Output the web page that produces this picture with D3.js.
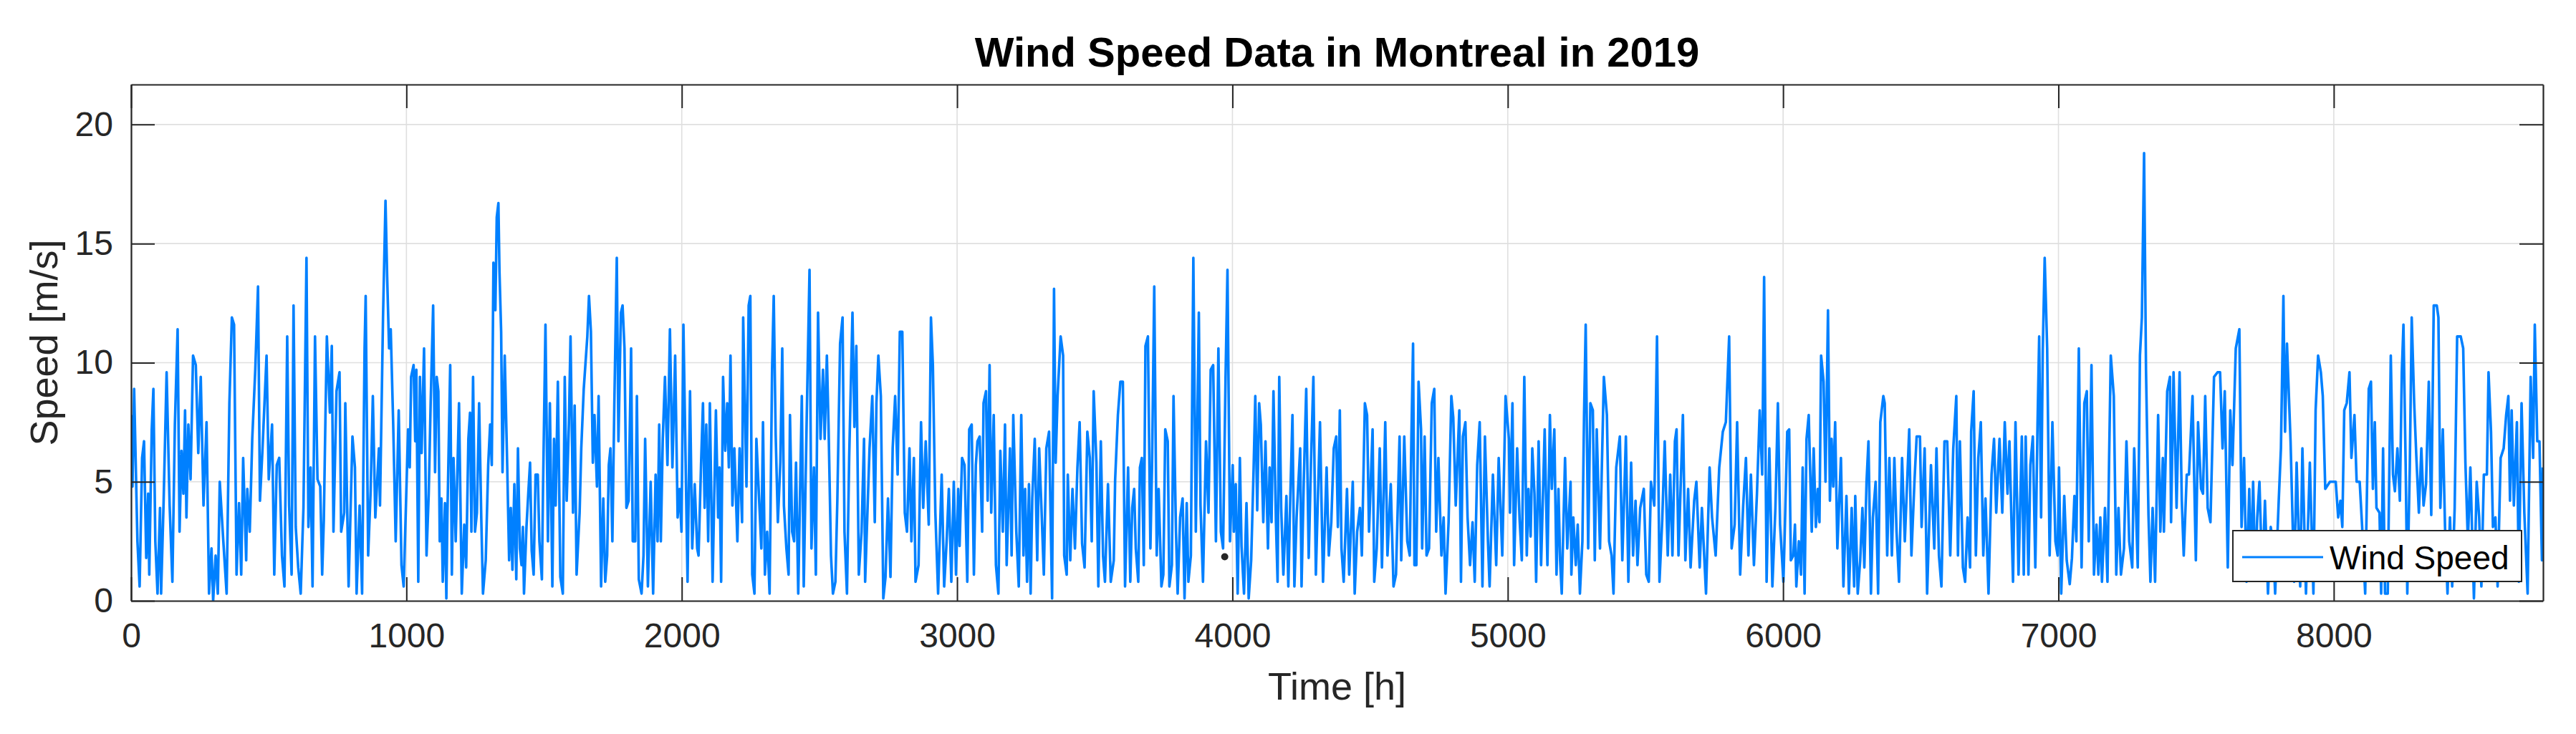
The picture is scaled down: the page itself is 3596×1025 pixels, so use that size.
<!DOCTYPE html>
<html>
<head>
<meta charset="utf-8">
<script src="https://cdn.jsdelivr.net/npm/d3@7"></script>
<style>
  html, body { margin: 0; padding: 0; background: #ffffff; }
  svg { display: block; }
</style>
</head>
<body>
<div id="chart"></div>
<script>
// ---------------- DATA (hour, wind speed m/s) ----------------
const chartTitle = "Wind Speed Data in Montreal in 2019";
const xLabel = "Time [h]";
const yLabel = "Speed [m/s]";
const legendLabel = "Wind Speed";
const xTicks = [0, 1000, 2000, 3000, 4000, 5000, 6000, 7000, 8000];
const yTicks = [0, 5, 10, 15, 20];
const xDomain = [0, 8760];
const yDomain = [0, 21.68];
const markerPoint = [[3972, 1.85]];

const seg0 = [[0,7.8],[5,4.8],[11,8.9],[23,2.5],[31,0.6],[40,6.0],[47,6.7],[55,1.8],[62,4.5],[66,1.1],[75,7.2],[81,8.9],[88,2.5],[96,0.3],[105,3.9],[109,0.3],[118,4.1],[129,9.6],[140,4.0],[150,0.8],[159,7.4],[169,11.4],[176,2.9],[183,6.3],[190,4.5],[196,8.0],[201,3.5],[208,7.4],[216,5.1],[225,10.3],[235,9.9],[244,6.2],[253,9.4],[263,4.0],[274,7.5],[283,0.3],[292,2.2],[298,0.0],[307,1.9],[315,0.3],[322,5.0],[335,2.5],[347,0.3],[357,8.3],[366,11.9],[374,11.6],[383,1.1],[392,4.1],[400,1.1],[407,6.0],[418,1.7],[422,4.7],[431,2.9],[440,6.8],[451,9.7],[461,13.2],[468,4.2],[477,6.3],[492,10.3],[500,5.1],[512,7.4],[520,1.1],[529,5.7],[538,6.0],[548,1.9],[557,0.6],[567,11.1],[574,4.0],[583,1.1],[590,12.4],[598,3.1],[607,1.4],[616,0.3],[626,3.9],[637,14.4],[644,3.1],[652,5.6],[659,0.6],[668,11.1],[677,5.1],[687,4.8],[694,1.1],[700,3.4],[706,7.8],[711,11.1],[722,7.9],[729,10.7],[735,2.9],[746,8.8],[757,9.6],[763,2.9],[774,3.7],[778,8.3],[790,0.6],[804,6.9],[813,5.6],[819,0.3],[830,4.0],[839,0.3],[848,10.6],[852,12.8],[861,1.9],[870,4.6],[878,8.6],[887,3.5],[900,6.4],[904,4.0],[915,11.9],[924,16.8],[930,13.6],[937,10.6],[943,11.4],[952,7.4],[961,2.5],[972,8.0],[982,1.5],[990,0.6]];

const seg1 = [[1006,7.2],[1012,5.6],[1017,9.4],[1026,9.9],[1032,6.7],[1036,9.7],[1043,0.8],[1049,9.4],[1055,6.2],[1064,10.6],[1073,1.9],[1081,4.5],[1088,8.3],[1097,12.4],[1104,5.4],[1110,9.4],[1116,8.8],[1121,2.5],[1127,4.3],[1132,0.8],[1140,4.1],[1145,0.1],[1149,3.7],[1159,9.9],[1165,1.1],[1171,6.0],[1179,2.5],[1191,8.3],[1201,0.3],[1210,3.2],[1217,1.4],[1225,6.8],[1231,7.9],[1236,2.9],[1242,9.4],[1249,2.9],[1256,3.7],[1264,8.3],[1272,3.4],[1278,0.3],[1288,1.7],[1297,5.7],[1304,7.4],[1310,5.7],[1316,14.2],[1323,12.2],[1328,16.1],[1334,16.7],[1338,13.8],[1344,11.3],[1349,5.4],[1357,10.3],[1366,5.7],[1373,1.7],[1379,3.9],[1385,1.3],[1392,4.9],[1399,0.9],[1405,6.4],[1412,2.2],[1418,1.5],[1423,3.1],[1427,0.3],[1436,3.1],[1443,4.6],[1449,5.8],[1455,2.1],[1462,1.1],[1469,5.3],[1477,5.3],[1483,2.5],[1492,0.9],[1496,4.6],[1505,11.6],[1514,2.5],[1521,8.3],[1530,0.6],[1536,6.8],[1542,4.0],[1550,9.2],[1559,1.0],[1568,0.3],[1575,9.4],[1582,4.2],[1590,7.4],[1596,11.1],[1605,3.7],[1611,8.2],[1618,1.1],[1629,3.7],[1635,6.4],[1644,8.9],[1657,11.1],[1663,12.8],[1670,11.3],[1677,5.8],[1683,7.8],[1692,4.8],[1698,8.6],[1707,0.6],[1715,4.3],[1722,0.8],[1729,1.9],[1735,5.7],[1741,6.4],[1748,2.5],[1755,8.2],[1764,14.4],[1770,6.7],[1779,12.1],[1785,12.4],[1792,10.6],[1799,3.9],[1807,4.2],[1816,10.6],[1822,2.5],[1831,2.5],[1837,8.6],[1844,0.9],[1854,0.3],[1861,1.9],[1867,6.8],[1877,0.6],[1887,5.0],[1896,0.3],[1905,5.3],[1912,2.5],[1918,7.4],[1924,2.5],[1931,6.8],[1939,9.4],[1948,5.7],[1957,11.4],[1966,5.6],[1976,10.3],[1985,3.5],[1992,4.7],[1999,2.9]];

const seg2 = [[2006,11.6],[2015,5.1],[2021,0.8],[2030,8.8],[2038,2.2],[2047,4.9],[2056,2.2],[2061,1.9],[2070,5.7],[2077,8.3],[2083,3.9],[2089,7.4],[2096,2.5],[2102,8.3],[2112,0.8],[2124,8.0],[2132,3.5],[2137,5.6],[2143,0.8],[2150,9.4],[2158,6.3],[2165,8.3],[2171,5.6],[2177,10.3],[2184,4.0],[2191,6.4],[2202,2.5],[2210,6.4],[2219,3.3],[2223,11.9],[2235,4.8],[2243,12.4],[2249,12.8],[2256,1.1],[2264,0.3],[2271,6.8],[2280,4.5],[2289,2.2],[2295,7.5],[2302,1.1],[2310,2.9],[2319,0.3],[2328,9.7],[2334,12.8],[2341,7.0],[2349,3.3],[2358,5.8],[2365,10.6],[2371,4.0],[2380,2.2],[2388,1.1],[2393,7.8],[2401,2.9],[2408,2.5],[2415,5.8],[2423,0.3],[2436,8.6],[2443,0.6],[2454,7.8],[2464,13.9],[2471,2.2],[2480,5.6],[2487,1.1],[2495,12.1],[2504,6.8],[2513,9.7],[2519,6.8],[2527,10.3],[2533,7.4],[2542,1.9],[2549,0.3],[2558,0.8],[2565,4.2],[2575,10.8],[2584,11.9],[2591,2.9],[2600,0.3],[2608,6.0],[2620,12.1],[2627,7.3],[2634,10.7],[2643,1.1],[2653,2.9],[2662,6.8],[2666,0.8],[2672,2.9],[2682,6.4],[2692,8.6],[2701,3.3],[2707,8.3],[2714,10.3],[2723,8.6],[2732,0.1],[2740,1.0],[2749,4.3],[2758,1.0],[2766,6.4],[2775,8.6],[2784,5.3],[2792,11.3],[2801,11.3],[2810,3.7],[2818,2.9],[2827,6.4],[2834,2.5],[2843,6.0],[2849,0.8],[2860,1.5],[2869,7.5],[2877,3.9],[2886,6.7],[2897,3.2],[2905,11.9],[2912,9.9],[2921,3.7],[2931,0.3],[2944,5.3],[2953,0.6],[2962,2.5],[2970,4.7],[2979,0.8],[2988,5.0],[2996,1.1]];

const seg3 = [[3004,4.7],[3009,2.3],[3018,6.0],[3027,5.7],[3037,0.8],[3044,7.2],[3053,7.4],[3061,1.1],[3068,5.7],[3074,6.7],[3082,6.9],[3091,2.9],[3096,8.3],[3105,8.8],[3111,4.2],[3118,9.9],[3124,3.7],[3133,7.8],[3141,1.5],[3150,0.3],[3157,6.3],[3166,2.9],[3174,7.4],[3180,1.5],[3192,6.4],[3198,1.9],[3204,7.8],[3215,2.9],[3224,0.6],[3233,7.8],[3241,1.9],[3247,4.7],[3254,0.8],[3261,4.9],[3267,0.3],[3273,4.3],[3282,6.8],[3291,1.7],[3298,6.4],[3306,4.0],[3315,1.1],[3324,6.4],[3334,7.1],[3345,0.1],[3352,13.1],[3358,5.8],[3365,8.6],[3376,11.1],[3385,10.3],[3389,1.9],[3398,1.1],[3402,5.3],[3411,1.7],[3419,4.7],[3428,2.2],[3437,5.6],[3445,7.5],[3454,2.4],[3463,1.4],[3473,7.1],[3482,6.0],[3489,2.5],[3496,8.8],[3506,5.8],[3513,0.6],[3522,6.7],[3530,1.9],[3537,0.8],[3548,4.9],[3558,0.8],[3569,1.7],[3574,5.1],[3584,7.8],[3593,9.2],[3602,9.2],[3610,0.6],[3621,5.6],[3629,0.8],[3636,3.9],[3643,4.7],[3649,2.2],[3658,0.8],[3664,5.6],[3671,6.0],[3678,1.5],[3684,10.7],[3693,11.1],[3702,2.2],[3708,5.7],[3716,13.2],[3725,1.9],[3732,4.7],[3742,0.6],[3749,1.1],[3756,7.2],[3765,6.7],[3771,0.6],[3780,1.5],[3786,8.6],[3795,2.9],[3801,0.3],[3810,3.5],[3819,4.3],[3826,0.1],[3834,4.1],[3840,0.8],[3849,1.9],[3858,14.4],[3867,2.9],[3878,12.1],[3884,4.0],[3893,0.8],[3904,6.7],[3913,3.7],[3921,9.7],[3930,9.9],[3940,2.5],[3949,10.6],[3958,2.9],[3966,2.2],[3975,9.4],[3982,13.9],[3991,2.5]];

const seg4 = [[4001,5.7],[4005,2.9],[4012,4.9],[4019,0.3],[4027,6.0],[4033,2.3],[4042,0.3],[4051,4.1],[4059,0.1],[4068,1.7],[4077,5.6],[4083,8.6],[4090,3.8],[4097,8.3],[4103,7.4],[4112,3.3],[4120,6.7],[4129,2.2],[4135,5.6],[4142,3.3],[4149,8.8],[4158,3.3],[4164,0.8],[4170,9.4],[4177,3.9],[4185,1.1],[4196,4.4],[4203,0.6],[4210,4.3],[4218,7.8],[4225,0.6],[4233,3.5],[4246,6.4],[4251,0.6],[4259,5.0],[4268,8.9],[4277,1.8],[4285,5.7],[4294,9.4],[4303,1.1],[4311,4.6],[4318,7.5],[4329,0.8],[4342,5.6],[4350,1.9],[4359,3.3],[4368,6.4],[4377,6.9],[4383,3.1],[4390,8.0],[4396,2.2],[4404,0.8],[4416,4.7],[4424,1.1],[4437,5.0],[4444,0.3],[4453,2.9],[4463,3.9],[4470,1.9],[4481,8.3],[4489,7.8],[4496,2.9],[4509,7.2],[4515,0.8],[4524,2.2],[4535,6.4],[4543,1.4],[4555,7.5],[4563,1.9],[4575,4.9],[4585,0.6],[4594,1.1],[4607,6.9],[4613,1.7],[4624,6.9],[4635,2.5],[4644,1.9],[4650,6.9],[4656,10.8],[4661,1.5],[4668,1.5],[4676,9.2],[4685,7.2],[4689,2.2],[4698,6.9],[4705,1.9],[4714,2.2],[4724,8.3],[4733,8.9],[4740,2.9],[4748,6.0],[4759,1.9],[4767,3.5],[4774,0.3],[4785,3.3],[4795,8.6],[4802,7.7],[4811,4.0],[4824,8.0],[4830,0.8],[4837,6.9],[4846,7.5],[4854,3.5],[4863,1.5],[4872,3.3],[4880,0.8],[4889,5.7],[4898,7.5],[4908,0.6],[4917,6.9],[4928,2.5],[4934,0.6],[4946,5.3],[4958,1.5],[4967,6.0],[4980,1.9],[4992,8.6]];

const seg5 = [[5004,6.8],[5008,3.7],[5017,8.3],[5023,1.5],[5034,6.4],[5043,3.4],[5051,1.7],[5060,9.4],[5069,1.9],[5075,4.7],[5083,2.7],[5089,6.4],[5097,4.5],[5103,0.8],[5112,6.7],[5121,1.5],[5134,7.2],[5144,1.5],[5153,7.8],[5160,4.7],[5169,7.2],[5177,1.1],[5184,4.7],[5190,1.7],[5196,0.3],[5208,6.0],[5216,2.2],[5228,5.0],[5231,1.1],[5238,3.5],[5247,1.5],[5254,3.2],[5262,0.3],[5271,2.5],[5277,7.8],[5283,11.6],[5292,2.2],[5300,8.3],[5309,8.0],[5316,1.7],[5323,7.2],[5335,2.2],[5349,9.4],[5360,7.8],[5368,2.5],[5377,1.9],[5384,0.3],[5394,5.6],[5407,6.9],[5416,1.7],[5429,6.9],[5438,0.8],[5448,5.8],[5455,1.9],[5464,4.2],[5471,1.5],[5481,3.9],[5494,4.7],[5503,1.1],[5512,0.8],[5520,5.0],[5532,4.0],[5542,11.1],[5551,0.8],[5561,3.4],[5570,6.7],[5581,1.9],[5590,5.3],[5598,1.9],[5607,6.7],[5613,7.2],[5620,1.9],[5636,7.8],[5645,1.7],[5655,4.7],[5664,1.4],[5677,4.2],[5685,5.0],[5697,1.4],[5705,3.9],[5720,0.3],[5733,5.6],[5742,3.5],[5755,1.9],[5768,5.6],[5781,7.1],[5792,7.5],[5804,11.1],[5813,2.2],[5824,3.2],[5833,7.5],[5844,1.1],[5855,4.0],[5865,6.0],[5874,1.9],[5883,5.3],[5894,1.5],[5905,4.5],[5915,8.0],[5924,5.3],[5931,13.6],[5940,0.8],[5950,6.4],[5961,0.6],[5972,3.9],[5981,8.3],[5989,3.2],[6001,0.8]];

const seg6 = [[6006,2.9],[6015,7.1],[6022,7.2],[6028,1.7],[6037,1.9],[6043,3.2],[6048,0.6],[6057,2.5],[6065,1.1],[6071,5.6],[6078,0.3],[6085,6.8],[6093,7.8],[6104,2.9],[6111,6.4],[6119,3.1],[6126,4.7],[6132,3.3],[6138,10.3],[6147,9.2],[6154,5.0],[6163,12.2],[6170,4.2],[6176,6.8],[6182,4.8],[6189,7.5],[6197,2.2],[6210,6.0],[6219,0.6],[6230,4.4],[6239,0.3],[6249,3.9],[6258,0.6],[6262,4.4],[6271,0.3],[6280,1.7],[6288,3.9],[6295,1.4],[6303,5.0],[6310,6.7],[6319,0.3],[6326,3.5],[6336,5.0],[6345,0.3],[6353,7.5],[6364,8.6],[6369,8.3],[6378,1.9],[6386,6.0],[6395,1.9],[6404,6.0],[6412,2.9],[6421,0.8],[6432,6.0],[6442,2.5],[6458,7.2],[6466,1.9],[6477,5.0],[6485,6.9],[6497,6.9],[6503,3.1],[6514,6.4],[6523,0.3],[6537,5.7],[6549,2.2],[6557,6.4],[6566,1.9],[6575,0.6],[6586,6.7],[6596,6.7],[6607,1.9],[6618,6.4],[6629,8.6],[6635,1.9],[6642,6.7],[6653,1.4],[6661,0.8],[6670,3.5],[6679,1.4],[6683,7.1],[6692,8.8],[6700,1.9],[6709,6.0],[6718,7.5],[6727,1.9],[6735,4.3],[6746,0.3],[6757,5.3],[6766,6.8],[6774,3.7],[6786,6.8],[6796,3.7],[6805,7.5],[6815,4.5],[6822,6.7],[6835,0.8],[6844,7.5],[6855,1.1],[6867,6.9],[6874,1.1],[6881,6.9],[6891,1.1],[6898,5.7],[6907,6.9],[6916,1.4],[6924,7.4],[6930,11.1],[6937,3.5],[6943,10.5],[6950,14.4],[6959,10.6],[6968,1.9],[6978,7.5],[6989,2.5],[6997,1.9]];

const seg7 = [[7002,5.6],[7010,0.3],[7021,4.4],[7030,1.7],[7041,0.7],[7049,1.8],[7058,4.4],[7065,2.5],[7074,10.6],[7084,1.4],[7094,8.3],[7103,8.8],[7110,2.5],[7120,9.9],[7129,1.1],[7138,3.2],[7145,1.1],[7152,3.5],[7158,0.8],[7169,3.9],[7178,0.8],[7184,6.0],[7190,10.3],[7201,8.6],[7210,1.1],[7218,3.9],[7227,1.1],[7238,2.2],[7247,6.7],[7257,2.5],[7268,1.4],[7275,6.4],[7288,1.4],[7296,10.3],[7303,11.9],[7311,18.8],[7318,9.7],[7327,3.6],[7334,0.8],[7342,3.9],[7351,0.8],[7362,7.8],[7370,2.9],[7379,6.0],[7383,2.9],[7395,8.8],[7405,9.4],[7409,3.3],[7418,9.6],[7429,3.9],[7440,9.6],[7448,4.2],[7455,1.9],[7466,5.3],[7474,5.3],[7487,8.6],[7499,1.7],[7507,7.5],[7518,4.7],[7525,4.5],[7533,8.6],[7542,3.9],[7552,3.3],[7565,9.4],[7578,9.6],[7587,9.6],[7596,6.4],[7604,8.8],[7615,1.4],[7624,8.0],[7632,5.7],[7644,10.6],[7657,11.4],[7665,3.1],[7674,6.0],[7683,0.8],[7693,4.7],[7700,1.2],[7707,5.0],[7715,1.0],[7722,3.5],[7730,5.0],[7737,2.2],[7743,1.8],[7750,4.2],[7761,0.3],[7771,3.1],[7780,2.4],[7787,0.3],[7800,4.2],[7808,6.4],[7817,12.8],[7823,7.1],[7830,10.8],[7843,6.7],[7856,0.8],[7865,5.8],[7878,0.6],[7886,6.4],[7899,0.3],[7913,5.8],[7926,0.3],[7934,8.0],[7943,10.3],[7953,9.6],[7960,8.6],[7969,4.7],[7986,5.0],[7999,5.0]];

const seg8 = [[8007,5.0],[8016,3.5],[8024,4.2],[8031,3.1],[8038,8.0],[8047,8.3],[8057,9.6],[8064,6.0],[8075,7.8],[8083,5.0],[8094,5.0],[8103,3.1],[8114,0.3],[8127,8.9],[8135,9.2],[8142,4.7],[8149,7.5],[8155,3.9],[8166,3.7],[8172,0.3],[8179,6.4],[8186,0.3],[8196,0.3],[8207,10.3],[8215,5.3],[8222,4.6],[8231,6.4],[8240,4.2],[8247,9.6],[8253,11.6],[8261,5.7],[8267,0.3],[8276,5.6],[8283,11.9],[8292,8.3],[8300,6.0],[8309,3.7],[8318,6.4],[8326,4.0],[8335,4.9],[8345,9.2],[8354,3.6],[8363,12.4],[8374,12.4],[8380,11.9],[8387,3.9],[8396,7.2],[8404,3.1],[8413,0.3],[8422,3.5],[8430,0.6],[8439,3.9],[8448,11.1],[8461,11.1],[8470,10.6],[8478,5.8],[8487,2.5],[8496,5.6],[8509,0.1],[8519,5.0],[8528,3.5],[8536,0.6],[8545,5.3],[8556,5.3],[8562,9.6],[8571,7.1],[8578,3.1],[8587,3.5],[8595,0.6],[8606,6.0],[8617,6.4],[8626,7.8],[8634,8.6],[8640,4.2],[8646,8.0],[8654,4.0],[8665,7.5],[8672,0.8],[8682,8.3],[8692,3.7],[8704,0.3],[8715,9.4],[8724,6.0],[8730,11.6],[8739,6.7],[8747,6.7],[8756,1.7],[8759,5.6]];

// ---------------- DRAWING ----------------
const windSeries = [].concat(seg0, seg1, seg2, seg3, seg4, seg5, seg6, seg7, seg8);

const W = 3596, H = 1025;
const plot = { left: 183, right: 3550, top: 118, bottom: 839 };
const FONT = "'Liberation Sans', Arial, Helvetica, sans-serif";
const AX = "#262626";
const LINE = "#0080ff";

const x = d3.scaleLinear().domain(xDomain).range([plot.left, plot.right]);
const y = d3.scaleLinear().domain(yDomain).range([plot.bottom, plot.top]);

const svg = d3.select("#chart").append("svg")
  .attr("width", W).attr("height", H)
  .attr("viewBox", `0 0 ${W} ${H}`);

svg.append("rect").attr("width", W).attr("height", H).attr("fill", "#ffffff");

// grid
const grid = svg.append("g");
grid.selectAll("line.gx").data(xTicks).join("line")
  .attr("x1", d => x(d)).attr("x2", d => x(d))
  .attr("y1", plot.top).attr("y2", plot.bottom)
  .attr("stroke", "#dfdfdf").attr("stroke-width", 1.6);
grid.selectAll("line.gy").data(yTicks).join("line")
  .attr("x1", plot.left).attr("x2", plot.right)
  .attr("y1", d => y(d)).attr("y2", d => y(d))
  .attr("stroke", "#dfdfdf").attr("stroke-width", 1.6);

// clip
svg.append("clipPath").attr("id", "clip").append("rect")
  .attr("x", plot.left).attr("y", plot.top)
  .attr("width", plot.right - plot.left).attr("height", plot.bottom - plot.top);

// data line
const line = d3.line().x(d => x(d[0])).y(d => y(d[1]));
svg.append("path")
  .datum(windSeries)
  .attr("clip-path", "url(#clip)")
  .attr("fill", "none")
  .attr("stroke", LINE)
  .attr("stroke-width", 3.6)
  .attr("stroke-linejoin", "round")
  .attr("d", line);

// marker point
svg.selectAll("circle.marker").data(markerPoint).join("circle")
  .attr("cx", d => x(d[0])).attr("cy", d => y(d[1]))
  .attr("r", 5).attr("fill", AX);

// axes (ticks inward)
const TICK = 33;
function styleAxis(g) {
  g.selectAll("path.domain").attr("stroke", AX).attr("stroke-width", 2.2);
  g.selectAll(".tick line").attr("stroke", AX).attr("stroke-width", 2);
  g.selectAll(".tick text").attr("fill", AX).attr("font-family", FONT).attr("font-size", 48);
}
svg.append("g").attr("transform", `translate(0,${plot.bottom})`)
  .call(d3.axisBottom(x).tickValues(xTicks).tickFormat(d3.format("d"))
    .tickSizeInner(-TICK).tickSizeOuter(0).tickPadding(31))
  .call(styleAxis);
svg.append("g").attr("transform", `translate(0,${plot.top})`)
  .call(d3.axisTop(x).tickValues(xTicks).tickFormat("")
    .tickSizeInner(-TICK).tickSizeOuter(0))
  .call(styleAxis);
svg.append("g").attr("transform", `translate(${plot.left},0)`)
  .call(d3.axisLeft(y).tickValues(yTicks).tickFormat(d3.format("d"))
    .tickSizeInner(-TICK).tickSizeOuter(0).tickPadding(25))
  .call(styleAxis);
svg.append("g").attr("transform", `translate(${plot.right},0)`)
  .call(d3.axisRight(y).tickValues(yTicks).tickFormat("")
    .tickSizeInner(-TICK).tickSizeOuter(0))
  .call(styleAxis);

// legend
const lg = svg.append("g");
lg.append("rect").attr("x", 3117).attr("y", 741).attr("width", 403).attr("height", 71)
  .attr("fill", "#ffffff").attr("stroke", AX).attr("stroke-width", 2);
lg.append("line").attr("x1", 3130).attr("x2", 3243).attr("y1", 778).attr("y2", 778)
  .attr("stroke", LINE).attr("stroke-width", 3);
lg.append("text").attr("x", 3252).attr("y", 795)
  .attr("font-family", FONT).attr("font-size", 46).attr("fill", "#000")
  .text(legendLabel);

// title & labels
svg.append("text").attr("x", (plot.left + plot.right) / 2).attr("y", 93)
  .attr("text-anchor", "middle").attr("font-family", FONT)
  .attr("font-weight", "bold").attr("font-size", 58).attr("fill", "#000")
  .text(chartTitle);
svg.append("text").attr("x", (plot.left + plot.right) / 2).attr("y", 977)
  .attr("text-anchor", "middle").attr("font-family", FONT)
  .attr("font-size", 54).attr("fill", AX)
  .text(xLabel);
svg.append("text")
  .attr("transform", `translate(80,${(plot.top + plot.bottom) / 2}) rotate(-90)`)
  .attr("text-anchor", "middle").attr("font-family", FONT)
  .attr("font-size", 54).attr("fill", AX)
  .text(yLabel);
</script>
</body>
</html>
